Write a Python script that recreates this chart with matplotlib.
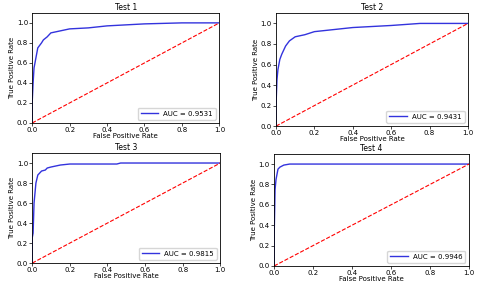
import matplotlib
matplotlib.use('Agg')
import matplotlib.pyplot as plt

# ROC points
titles = ["Test 1", "Test 2", "Test 3", "Test 4"]
aucs = [0.9531, 0.9431, 0.9815, 0.9946]

fpr1 = [0, 0, 0.005, 0.01, 0.02, 0.03, 0.05, 0.06, 0.08, 0.1, 0.15, 0.2, 0.3, 0.4, 0.5, 0.6, 0.8, 1.0]
tpr1 = [0, 0.2, 0.4, 0.55, 0.65, 0.75, 0.8, 0.83, 0.86, 0.9, 0.92, 0.94, 0.95, 0.97, 0.98, 0.99, 1.0, 1.0]

fpr2 = [0, 0, 0.005, 0.01, 0.02, 0.03, 0.05, 0.07, 0.1, 0.15, 0.2, 0.3, 0.4, 0.6, 0.75, 1.0]
tpr2 = [0, 0.2, 0.45, 0.55, 0.65, 0.7, 0.78, 0.83, 0.87, 0.89, 0.92, 0.94, 0.96, 0.98, 1.0, 1.0]

fpr3 = [0, 0, 0.005, 0.01, 0.015, 0.02, 0.03, 0.05, 0.07, 0.08, 0.1, 0.15, 0.2, 0.45, 0.47, 1.0]
tpr3 = [0, 0.25, 0.3, 0.6, 0.7, 0.8, 0.88, 0.92, 0.93, 0.95, 0.96, 0.98, 0.99, 0.99, 1.0, 1.0]

fpr4 = [0, 0, 0.005, 0.01, 0.015, 0.02, 0.03, 0.05, 0.08, 1.0]
tpr4 = [0, 0.25, 0.75, 0.85, 0.9, 0.95, 0.97, 0.99, 1.0, 1.0]

fprs = [fpr1, fpr2, fpr3, fpr4]
tprs = [tpr1, tpr2, tpr3, tpr4]

# axes boxes (left, bottom, width, height)
boxes = [
    [0.067, 0.570, 0.390, 0.385],
    [0.575, 0.559, 0.400, 0.395],
    [0.067, 0.080, 0.392, 0.385],
    [0.571, 0.070, 0.406, 0.392],
]

fig = plt.figure(figsize=(4.8, 2.86), dpi=100)

for i in range(4):
    ax = fig.add_axes(boxes[i])
    ax.plot(fprs[i], tprs[i], color='#3333dd', linewidth=1, label='AUC = %0.4f' % aucs[i])
    ax.plot([0, 1], [0, 1], 'r--', linewidth=0.8)
    ax.set_xlim([0, 1])
    ax.set_ylim([0, 1.1])
    ax.set_title(titles[i], fontsize=5.5, pad=2)
    ax.set_xlabel('False Positive Rate', fontsize=5, labelpad=0)
    ax.set_ylabel('True Positive Rate', fontsize=5, labelpad=1)
    ax.tick_params(labelsize=5, length=2, width=0.5, pad=1)
    for s in ax.spines.values():
        s.set_linewidth(0.6)
    ax.legend(loc='lower right', fontsize=5, handlelength=2.5)

plt.savefig('out.png')
